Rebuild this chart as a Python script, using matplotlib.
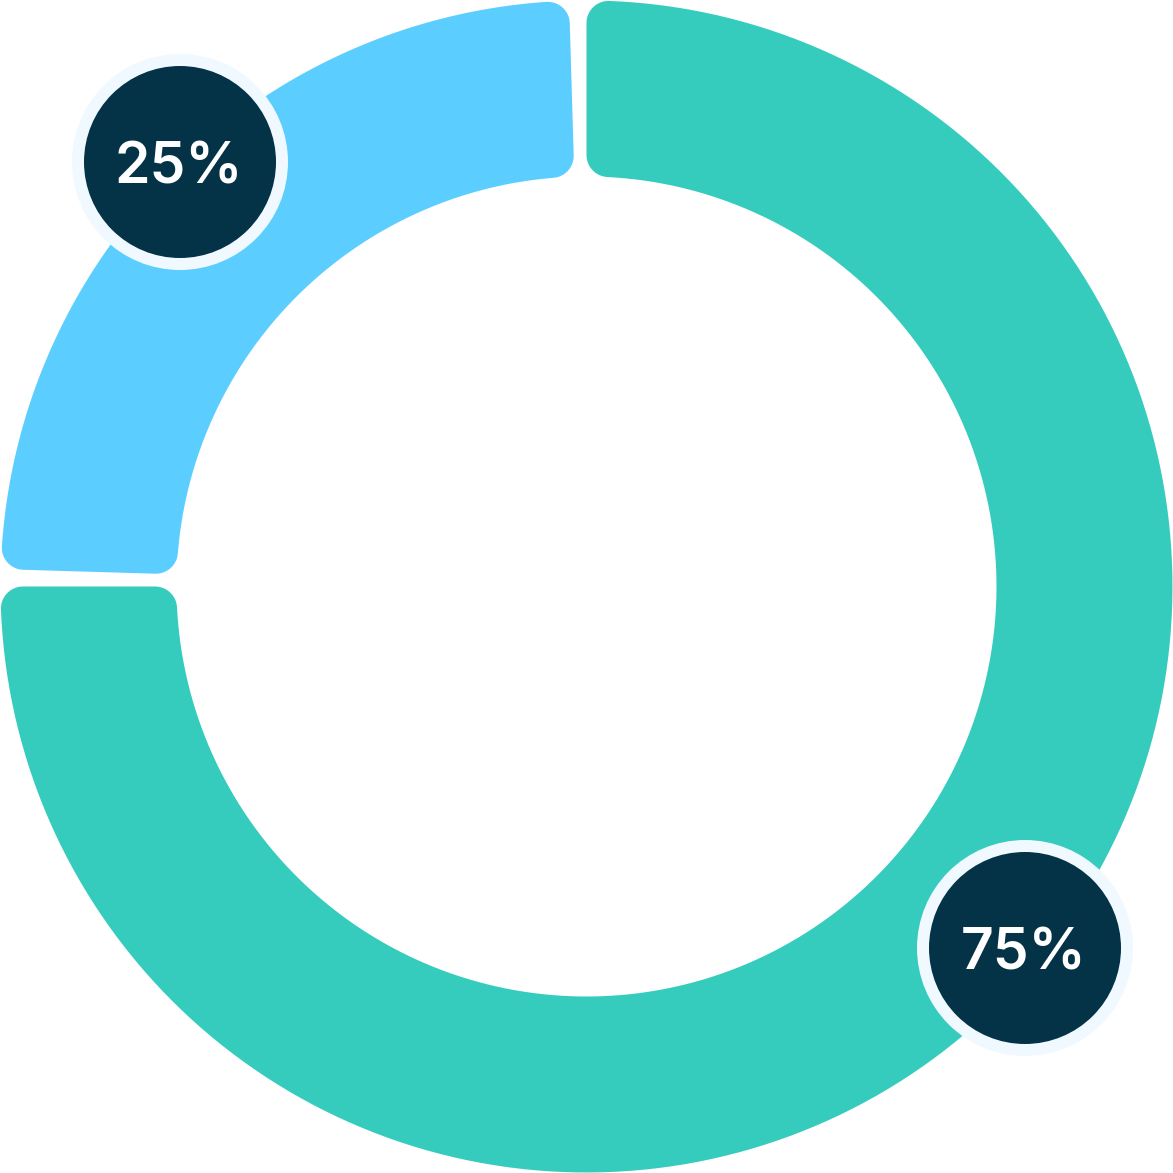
import numpy as np
import matplotlib.pyplot as plt
from matplotlib.patches import Polygon, Circle

# data
labels = ['75%', '25%']
values = [75, 25]
colors = ['#36CCBD', '#5BCEFF']

SIZE = 1173
CX, CY = 586.5, 586.5
R_OUT = 586
R_IN = 410
CORNER = 22
GAP_DEG = 1.7


def arc_pts(c, r, a0, a1, n=40):
    t = np.linspace(a0, a1, n)
    return np.column_stack([c[0] + r * np.cos(t), c[1] + r * np.sin(t)])


def corner_arc(c, p0, p1, rc, n=16):
    t0 = np.arctan2(p0[1] - c[1], p0[0] - c[0])
    t1 = np.arctan2(p1[1] - c[1], p1[0] - c[0])
    d = (t1 - t0 + np.pi) % (2 * np.pi) - np.pi
    return arc_pts(c, rc, t0, t0 + d, n)


def polar(r, a):
    return np.array([CX + r * np.cos(a), CY + r * np.sin(a)])


def rounded_sector(a0, a1, R, r, rc):
    # a0 < a1, radians, counter-clockwise
    po = np.arcsin(rc / (R - rc))
    pi_ = np.arcsin(rc / (r + rc))
    lo = np.sqrt((R - rc) ** 2 - rc ** 2)
    li = np.sqrt((r + rc) ** 2 - rc ** 2)
    pts = []
    # outer corner at a0
    c = polar(R - rc, a0 + po)
    pts.append(corner_arc(c, polar(lo, a0), polar(R, a0 + po), rc))
    pts.append(arc_pts((CX, CY), R, a0 + po, a1 - po, 200))
    # outer corner at a1
    c = polar(R - rc, a1 - po)
    pts.append(corner_arc(c, polar(R, a1 - po), polar(lo, a1), rc))
    # inner corner at a1
    c = polar(r + rc, a1 - pi_)
    pts.append(corner_arc(c, polar(li, a1), polar(r, a1 - pi_), rc))
    pts.append(arc_pts((CX, CY), r, a1 - pi_, a0 + pi_, 200))
    # inner corner at a0
    c = polar(r + rc, a0 + pi_)
    pts.append(corner_arc(c, polar(r, a0 + pi_), polar(li, a0), rc))
    return np.vstack(pts)


fig = plt.figure(figsize=(11.73, 11.73), dpi=100)
ax = fig.add_axes([0, 0, 1, 1])
ax.set_xlim(0, SIZE)
ax.set_ylim(0, SIZE)
ax.axis('off')

# teal goes clockwise from 12 o'clock, blue fills the rest with a small gap
total = sum(values)
start = 90.0
segs = []
for i, v in enumerate(values):
    sweep = 360.0 * v / total
    end = start - sweep
    if i == 0:
        a0, a1 = end, start
    else:
        a0, a1 = end + GAP_DEG, start - GAP_DEG
    segs.append((a0, a1))
    start = end

for (a0, a1), col in zip(segs, colors):
    poly = rounded_sector(np.radians(a0), np.radians(a1), R_OUT, R_IN, CORNER)
    ax.add_patch(Polygon(poly, closed=True, facecolor=col, edgecolor='none'))

# badges (pixel positions, y up)
badge_pos = [(1025, 225), (180, 1011)]
for (bx, by), lab in zip(badge_pos, labels):
    ax.add_patch(Circle((bx, by), 108, facecolor='#F0F9FF', edgecolor='none', zorder=3))
    ax.add_patch(Circle((bx, by), 96, facecolor='#043347', edgecolor='none', zorder=4))
    ax.text(bx - 1, by - 22, lab, color='white', fontsize=41, fontfamily='Inter',
            fontweight='semibold', ha='center', va='baseline', zorder=5)

fig.savefig('out.png', dpi=100)
